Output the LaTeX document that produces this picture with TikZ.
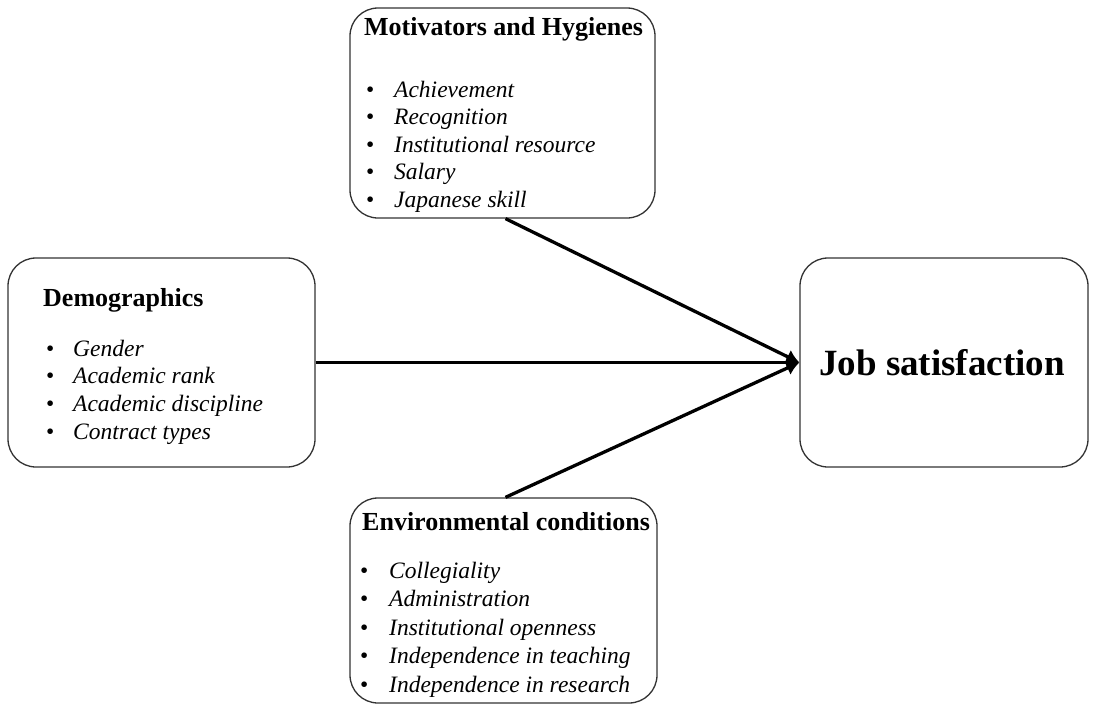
\documentclass[tikz,border=0pt]{standalone}
\usepackage{fontspec}
\setmainfont{Liberation Serif}
\usetikzlibrary{arrows.meta}
\begin{document}
\begin{tikzpicture}[x=1pt,y=-1pt,
  box/.style={draw=black!80, line width=1.3pt, rounded corners=28pt, inner sep=0pt},
  ttl/.style={anchor=base west, inner sep=0pt, font=\fontsize{26}{30}\selectfont\bfseries},
  itm/.style={anchor=base west, inner sep=0pt, font=\fontsize{23.5}{28}\selectfont\itshape},
  bul/.style={anchor=base west, inner sep=0pt, font=\fontsize{23.5}{28}\selectfont},
  conn/.style={line width=3.3pt, -{Latex[length=13pt,width=15pt]}}]
\useasboundingbox (0,0) rectangle (1095,704);
\fill[white] (0,0) rectangle (1095,704);

% boxes
\node[box, minimum width=305pt, minimum height=210pt] (mot) at (502.5,113) {};
\node[box, minimum width=307pt, minimum height=209pt] (dem) at (161.5,362.5) {};
\node[box, minimum width=307pt, minimum height=205pt] (env) at (503.5,600.5) {};
\node[box, minimum width=288pt, minimum height=209pt] (job) at (944,362.5) {};

% Motivators and Hygienes
\node[ttl] (motT) at (364,35) {Motivators and Hygienes};
\foreach \t [count=\i from 0] in {Achievement,Recognition,Institutional resource,Salary,Japanese skill}{
  \node[bul] (motB\i) at (366,97+27.5*\i) {•};
  \node[itm] (motI\i) at (394,97+27.5*\i) {\t};
}

% Demographics
\node[ttl] (demT) at (43,306) {Demographics};
\foreach \t [count=\i from 0] in {Gender,Academic rank,Academic discipline,Contract types}{
  \node[bul] (demB\i) at (46,356+27.7*\i) {•};
  \node[itm] (demI\i) at (73,356+27.7*\i) {\t};
}

% Environmental conditions
\node[ttl] (envT) at (362,530) {Environmental conditions};
\foreach \t [count=\i from 0] in {Collegiality,Administration,Institutional openness,Independence in teaching,Independence in research}{
  \node[bul] (envB\i) at (360,578+28.5*\i) {•};
  \node[itm] (envI\i) at (389,578+28.5*\i) {\t};
}

% Job satisfaction
\node[anchor=base, inner sep=0pt, font=\fontsize{37}{42}\selectfont\bfseries] (jobT) at (942,375) {Job satisfaction};

% connectors
\draw[conn] ([xshift=3pt]mot.south) -- (job.west);
\draw[conn] (dem.east) -- (job.west);
\draw[conn] ([xshift=2pt]env.north) -- (job.west);
\end{tikzpicture}
\end{document}
